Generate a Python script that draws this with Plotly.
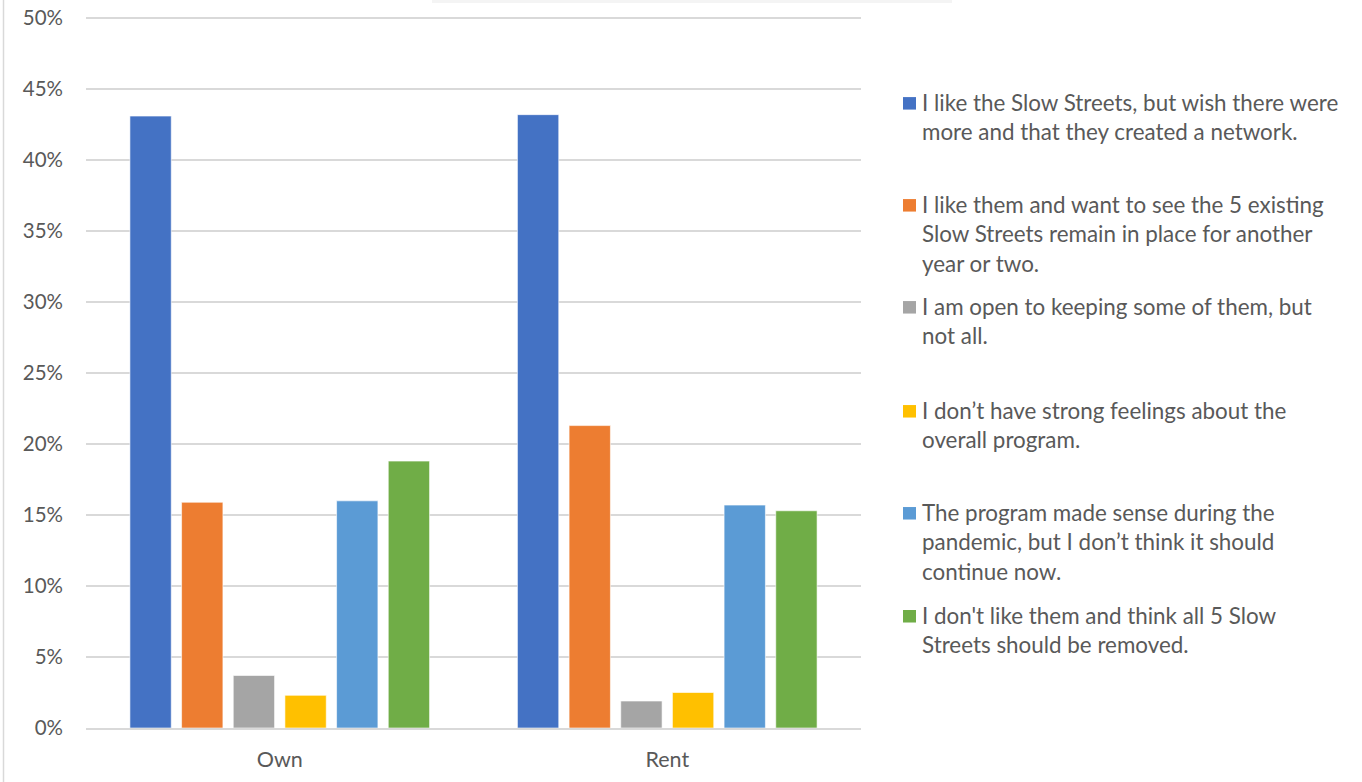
import plotly.graph_objects as go

categories = ["Own", "Rent"]
series_names = [
    "I like the Slow Streets, but wish there were<br>more and that they created a network.",
    "I like them and want to see the 5 existing<br>Slow Streets remain in place for another<br>year or two.",
    "I am open to keeping some of them, but<br>not all.",
    "I don\u2019t have strong feelings about the<br>overall program.",
    "The program made sense during the<br>pandemic, but I don\u2019t think it should<br>continue now.",
    "I don't like them and think all 5 Slow<br>Streets should be removed.",
]
values_own = [43.1, 15.9, 3.7, 2.3, 16.0, 18.8]
values_rent = [43.2, 21.3, 1.9, 2.5, 15.7, 15.3]
colors = ["#4472C4", "#ED7D31", "#A5A5A5", "#FFC000", "#5B9BD5", "#70AD47"]
y_ticks = [0, 5, 10, 15, 20, 25, 30, 35, 40, 45, 50]

FONT = "Lato"
TXT = "#595959"

fig = go.Figure()
for i, name in enumerate(series_names):
    fig.add_trace(go.Bar(
        x=categories,
        y=[values_own[i], values_rent[i]],
        name=name,
        marker=dict(color=colors[i], line=dict(color="rgba(255,255,255,0.6)", width=1)),
        showlegend=False,
    ))

W, H = 1362, 782
Y_MAX = 50.5
PX_PER_UNIT = 14.2
L, R, B = 86, 861, 728
T = B - Y_MAX * PX_PER_UNIT
pw, ph = R - L, B - T

def px_x(x):
    return (x - L) / pw

def px_y(y):
    return (B - y) / ph

annotations = []
shapes = []
first_line_y = [102, 204, 306, 410, 512, 615]
line_h = 29.5
for i, name in enumerate(series_names):
    lines = name.split("<br>")
    y0 = first_line_y[i]
    shapes.append(dict(type="rect", xref="paper", yref="paper",
                       x0=px_x(903), x1=px_x(916), y0=px_y(y0 + 7.5), y1=px_y(y0 - 5),
                       fillcolor=colors[i], line=dict(width=0)))
    for j, ln in enumerate(lines):
        annotations.append(dict(
            text=ln, xref="paper", yref="paper",
            x=px_x(920), y=px_y(y0 + j * line_h),
            xanchor="left", yanchor="middle", showarrow=False,
            font=dict(family=FONT, size=22.4, color=TXT),
        ))

# chart frame (left edge) and faint title shadow at top
shapes.append(dict(type="line", xref="paper", yref="paper",
                   x0=px_x(3.5), x1=px_x(3.5), y0=px_y(0), y1=px_y(782),
                   line=dict(color="#D9D9D9", width=1.5)))
shapes.append(dict(type="rect", xref="paper", yref="paper",
                   x0=px_x(432), x1=px_x(952), y0=px_y(0), y1=px_y(3),
                   fillcolor="#F4F4F4", line=dict(width=0)))

fig.update_layout(
    width=W, height=H,
    margin=dict(l=L, r=W - R, t=T, b=H - B, pad=0),
    paper_bgcolor="white", plot_bgcolor="white",
    barmode="group", bargap=0.2, bargroupgap=0.2,
    font=dict(family=FONT, size=20, color=TXT),
    shapes=shapes, annotations=annotations,
    showlegend=False,
)
fig.update_yaxes(
    range=[0, Y_MAX], tickvals=y_ticks, ticktext=[f"{v}%" for v in y_ticks],
    showgrid=True, gridcolor="#D9D9D9", gridwidth=1.5,
    zeroline=False, showline=False, ticks="",
    ticklabelstandoff=22, automargin=False,
    tickfont=dict(family=FONT, size=20.5, color=TXT),
)
fig.update_xaxes(
    showline=True, linecolor="#D9D9D9", linewidth=1.5,
    ticks="", ticklabelstandoff=11, automargin=False,
    tickfont=dict(family=FONT, size=21.5, color=TXT),
)

fig.write_html(
    "out.html",
    config={"displayModeBar": False},
    post_script="document.body.style.margin='0';document.body.style.overflow='hidden';",
)
